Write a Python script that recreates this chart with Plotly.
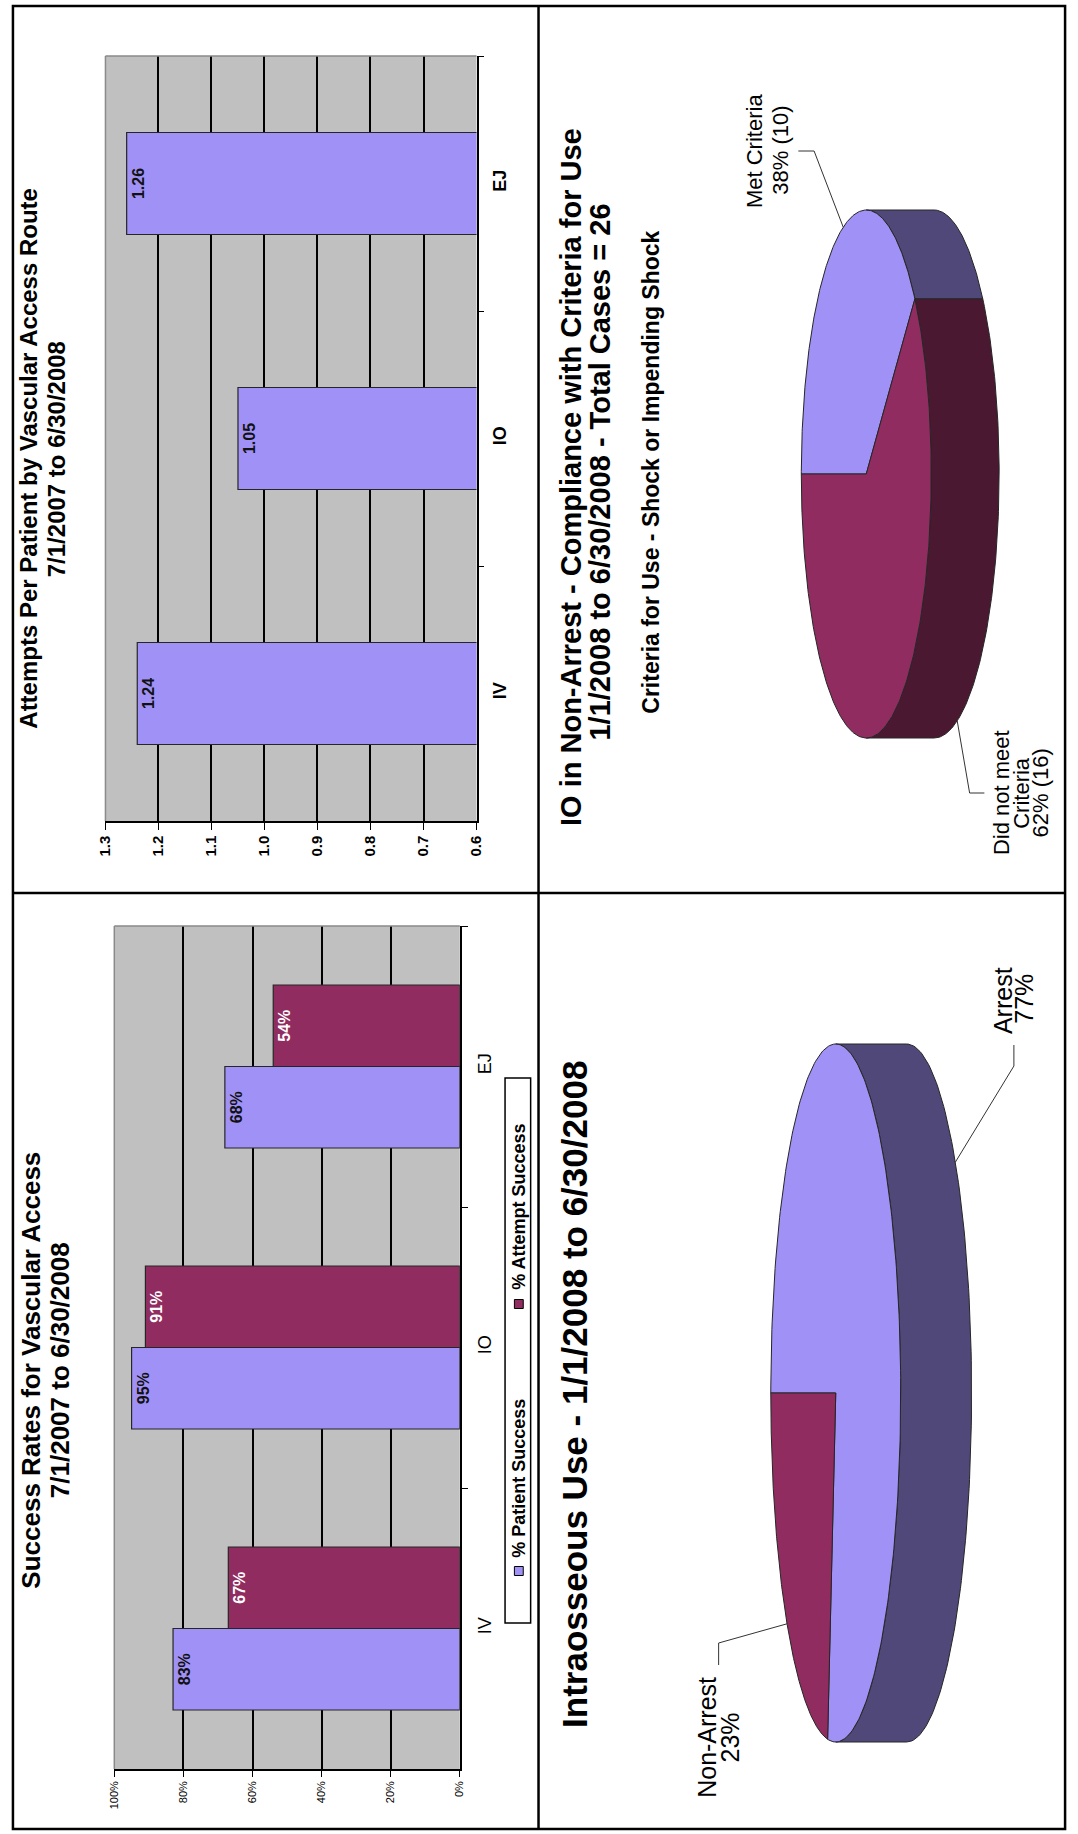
import numpy as np
import plotly.graph_objects as go

W, H = 1078, 1834
FONT = "Liberation Sans, Arial, sans-serif"

# ---- data -------------------------------------------------------------
routes = ["IV", "IO", "EJ"]

# Attempts per patient by vascular access route
attempts_per_patient = [1.24, 1.05, 1.26]
attempt_ticks = [0.6, 0.7, 0.8, 0.9, 1.0, 1.1, 1.2, 1.3]

# Success rates for vascular access
success_series = ["% Patient Success", "% Attempt Success"]
patient_success = [0.83, 0.95, 0.68]
attempt_success = [0.67, 0.91, 0.54]
success_ticks = [0.0, 0.2, 0.4, 0.6, 0.8, 1.0]

# IO in non-arrest: compliance with criteria for use
criteria_labels = ["Met Criteria", "Did not meet Criteria"]
criteria_counts = [10, 16]

# Intraosseous use
use_labels = ["Arrest", "Non-Arrest"]
use_pcts = [77, 23]

# ---- colours ----------------------------------------------------------
LAV = "#a091f6"
MAROON = "#912c61"
LAV_SIDE = "#504878"
MAROON_SIDE = "#4a1931"
GRID_BG = "#c0c0c0"
EDGE = "#262626"


def px_x(v):
    return v / W


def px_y(v):
    return 1 - v / H


fig = go.Figure()

# ---- Attempts per patient (horizontal bars, value axis reversed) ------
fig.add_trace(go.Bar(
    x=attempts_per_patient, y=routes, orientation="h",
    width=0.4, offset=-0.2,
    marker=dict(color=LAV, line=dict(color=EDGE, width=1.2)),
    text=[f"{v:.2f}" for v in attempts_per_patient],
    textposition="inside", insidetextanchor="end", textangle=-90,
    constraintext="none",
    textfont=dict(family=FONT, size=16, color="#111111", weight="bold"),
    xaxis="x", yaxis="y", hoverinfo="skip", showlegend=False,
))

# ---- Success rates (grouped horizontal bars) -------------------------
fig.add_trace(go.Bar(
    x=patient_success, y=routes, orientation="h", name=success_series[0],
    width=0.29, offset=-0.29,
    marker=dict(color=LAV, line=dict(color=EDGE, width=1.2)),
    text=[f"{v:.0%}" for v in patient_success],
    textposition="inside", insidetextanchor="end", textangle=-90,
    constraintext="none",
    textfont=dict(family=FONT, size=16, color="#111111", weight="bold"),
    xaxis="x2", yaxis="y2", hoverinfo="skip", showlegend=False,
))
fig.add_trace(go.Bar(
    x=attempt_success, y=routes, orientation="h", name=success_series[1],
    width=0.29, offset=0.0,
    marker=dict(color=MAROON, line=dict(color=EDGE, width=1.2)),
    text=[f"{v:.0%}" for v in attempt_success],
    textposition="inside", insidetextanchor="end", textangle=-90,
    constraintext="none",
    textfont=dict(family=FONT, size=16, color="white", weight="bold"),
    xaxis="x2", yaxis="y2", hoverinfo="skip", showlegend=False,
))


# ---- 3-D pies drawn on a page-sized pixel axis ------------------------
def pie3d(values, top_colors, side_colors, cx, cy, rx, ry, depth):
    """Tilted pie, first slice starting at the left point, running clockwise.
    Returns traces and the leader anchor point of every slice."""
    total = float(sum(values))
    cum = np.concatenate([[0.0], np.cumsum(values) / total * 360.0])

    def pt(phi):
        p = np.radians(phi)
        return cx - rx * np.cos(p), cy - ry * np.sin(p)

    traces, anchors = [], []
    # visible rim (right-hand half of the disc)
    for i in range(len(values)):
        lo, hi = max(cum[i], 90.0), min(cum[i + 1], 270.0)
        if hi > lo:
            ph = np.linspace(lo, hi, 120)
            xs, ys = pt(ph)
            X = np.concatenate([xs, (xs + depth)[::-1], xs[:1]])
            Y = np.concatenate([ys, ys[::-1], ys[:1]])
            traces.append(go.Scatter(
                x=X, y=Y, mode="lines", fill="toself",
                fillcolor=side_colors[i], line=dict(color=EDGE, width=1),
                xaxis="x3", yaxis="y3", hoverinfo="skip", showlegend=False))
    # top face
    for i in range(len(values)):
        ph = np.linspace(cum[i], cum[i + 1], 240)
        xs, ys = pt(ph)
        X = np.concatenate([[cx], xs, [cx]])
        Y = np.concatenate([[cy], ys, [cy]])
        traces.append(go.Scatter(
            x=X, y=Y, mode="lines", fill="toself",
            fillcolor=top_colors[i], line=dict(color=EDGE, width=1),
            xaxis="x3", yaxis="y3", hoverinfo="skip", showlegend=False))
        mid = 0.5 * (cum[i] + cum[i + 1])
        ax, ay = pt(mid)
        if 90.0 < mid < 270.0:
            ax += depth
        anchors.append((float(ax), float(ay)))
    return traces, anchors


crit_traces, crit_anchor = pie3d(
    criteria_counts, [LAV, MAROON], [LAV_SIDE, MAROON_SIDE],
    cx=871, cy=474, rx=66, ry=264, depth=69)
use_traces, use_anchor = pie3d(
    use_pcts, [LAV, MAROON], [LAV_SIDE, MAROON_SIDE],
    cx=840, cy=1393, rx=66, ry=349, depth=72)
for t in crit_traces + use_traces:
    fig.add_trace(t)


def leader(anchor, elbow, end):
    fig.add_trace(go.Scatter(
        x=[anchor[0], elbow[0], end[0]], y=[anchor[1], elbow[1], end[1]],
        mode="lines", line=dict(color="#333333", width=1),
        xaxis="x3", yaxis="y3", hoverinfo="skip", showlegend=False))


leader(crit_anchor[0], (818, 151), (802, 151))
leader(crit_anchor[1], (976, 793), (991, 793))
leader(use_anchor[0], (1021, 1066), (1021, 1045))
leader(use_anchor[1], (721, 1643), (721, 1665))


def vtext(txt, x, y, size, bold=False, color="black"):
    fig.add_annotation(
        x=x, y=y, xref="x3", yref="y3", text=txt, textangle=-90,
        showarrow=False, xanchor="center", yanchor="middle",
        font=dict(family=FONT, size=size, color=color,
                  weight="bold" if bold else "normal"))


# chart titles
vtext("Attempts Per Patient by Vascular Access Route", 19, 458, 24, True)
vtext("7/1/2007 to 6/30/2008", 48, 459, 24, True)
vtext("Success Rates for Vascular Access", 22, 1370, 26, True)
vtext("7/1/2007 to 6/30/2008", 52, 1370, 26, True)
vtext("IO in Non-Arrest - Compliance with Criteria for Use", 571, 477, 29, True)
vtext("1/1/2008 to 6/30/2008 - Total Cases = 26", 600, 472, 29, True)
vtext("Criteria for Use - Shock or Impending Shock", 652, 472, 23, True)
vtext("Intraosseous Use - 1/1/2008 to 6/30/2008", 574, 1394, 35, True)

# pie slice labels
crit_pct = [round(100 * c / sum(criteria_counts)) for c in criteria_counts]
vtext("Met Criteria", 757, 151, 22)
vtext(f"{crit_pct[0]}% ({criteria_counts[0]})", 783, 150, 22)
vtext("Did not meet", 1008, 793, 22)
vtext("Criteria", 1028, 793, 22)
vtext(f"{crit_pct[1]}% ({criteria_counts[1]})", 1048, 793, 22)
vtext(use_labels[0], 1010, 1001, 25)
vtext(f"{use_pcts[0]}%", 1031, 999, 25)
vtext(use_labels[1], 709, 1737, 25)
vtext(f"{use_pcts[1]}%", 733, 1737, 25)

# legend of the success-rate chart
vtext(success_series[0], 518, 1478, 18, True)
vtext(success_series[1], 518, 1207, 18, True)

shapes = []
# plot-area fills and grey frame edges
for xr, yr in (("x", "y"), ("x2", "y2")):
    shapes.append(dict(type="rect", xref=f"{xr} domain", yref=f"{yr} domain",
                       x0=0, x1=1, y0=0, y1=1, fillcolor=GRID_BG,
                       line=dict(width=0), layer="below"))
    shapes.append(dict(type="line", xref=f"{xr} domain", yref=f"{yr} domain",
                       x0=0, x1=0, y0=0, y1=1,
                       line=dict(color="#8a8a8a", width=1.5), layer="above"))
    shapes.append(dict(type="line", xref=f"{xr} domain", yref=f"{yr} domain",
                       x0=0, x1=1, y0=1, y1=1,
                       line=dict(color="#8a8a8a", width=1.5), layer="above"))

# legend box and swatches
shapes.append(dict(type="rect", xref="x3", yref="y3", x0=504, x1=530,
                   y0=1078, y1=1623, fillcolor="white",
                   line=dict(color="black", width=1.5), layer="above"))
for cy_sw, col in ((1571, LAV), (1304, MAROON)):
    shapes.append(dict(type="rect", xref="x3", yref="y3",
                       x0=513.5, x1=522.5, y0=cy_sw - 4.5, y1=cy_sw + 4.5,
                       fillcolor=col, line=dict(color="black", width=1),
                       layer="above"))

# page table rules
rule = dict(color="black", width=2.5)
shapes.append(dict(type="rect", xref="x3", yref="y3", x0=4, x1=1073,
                   y0=6, y1=1829, line=rule, layer="above"))
shapes.append(dict(type="line", xref="x3", yref="y3", x0=538, x1=538,
                   y0=6, y1=1829, line=rule, layer="above"))
shapes.append(dict(type="line", xref="x3", yref="y3", x0=4, x1=1073,
                   y0=893, y1=893, line=rule, layer="above"))

axis_common = dict(showline=True, linecolor="black", linewidth=1.5,
                   zeroline=False, fixedrange=True, ticks="outside",
                   tickcolor="black")

fig.update_layout(
    width=W, height=H,
    margin=dict(l=0, r=0, t=0, b=0),
    paper_bgcolor="white", plot_bgcolor="rgba(0,0,0,0)",
    showlegend=False, barmode="overlay",
    font=dict(family=FONT, color="black"),
    shapes=shapes,
    xaxis=dict(
        domain=[px_x(98), px_x(475)], anchor="y", range=[1.3, 0.6],
        tickvals=attempt_ticks, ticktext=[f"{t:.1f}" for t in attempt_ticks],
        ticklen=7, tickangle=-90,
        tickfont=dict(family=FONT, size=15, weight="bold"),
        showgrid=True, gridcolor="black", gridwidth=1.5, **axis_common),
    yaxis=dict(
        domain=[px_y(821), px_y(56)], anchor="x", side="right",
        type="category", categoryorder="array", categoryarray=routes,
        tickson="boundaries", ticklen=6, tickangle=-90,
        ticklabelstandoff=6,
        tickfont=dict(family=FONT, size=18, weight="bold"),
        showgrid=False, **axis_common),
    xaxis2=dict(
        domain=[px_x(107), px_x(458)], anchor="y2", range=[1.0, 0.0],
        tickvals=success_ticks, tickformat=".0%",
        ticklen=6, tickangle=-90,
        tickfont=dict(family=FONT, size=11),
        showgrid=True, gridcolor="black", gridwidth=1.5, **axis_common),
    yaxis2=dict(
        domain=[px_y(1769), px_y(926)], anchor="x2", side="right",
        type="category", categoryorder="array", categoryarray=routes,
        tickson="boundaries", ticklen=6, tickangle=-90,
        ticklabelstandoff=8,
        tickfont=dict(family=FONT, size=18),
        showgrid=False, **axis_common),
    xaxis3=dict(domain=[0, 1], anchor="y3", range=[0, W], visible=False,
                fixedrange=True),
    yaxis3=dict(domain=[0, 1], anchor="x3", range=[H, 0], visible=False,
                fixedrange=True),
)

fig.write_html("out.html", config={"displayModeBar": False})
